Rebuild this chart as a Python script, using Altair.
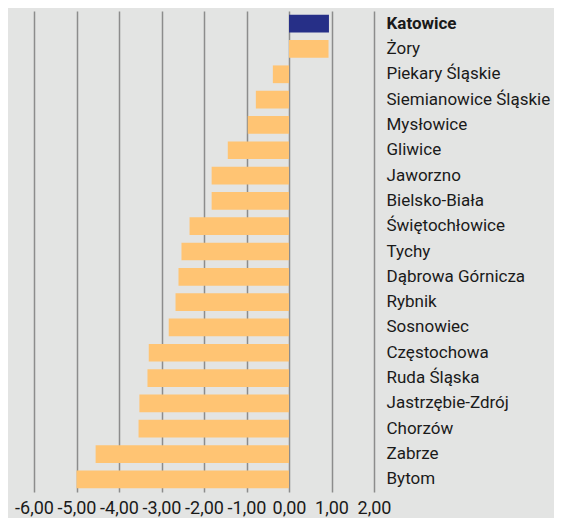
import altair as alt
import pandas as pd

cities = ["Katowice", "Żory", "Piekary Śląskie", "Siemianowice Śląskie", "Mysłowice",
          "Gliwice", "Jaworzno", "Bielsko-Biała", "Świętochłowice", "Tychy",
          "Dąbrowa Górnicza", "Rybnik", "Sosnowiec", "Częstochowa", "Ruda Śląska",
          "Jastrzębie-Zdrój", "Chorzów", "Zabrze", "Bytom"]
values = [0.94, 0.93, -0.38, -0.78, -0.97, -1.44, -1.82, -1.82, -2.34, -2.53,
          -2.60, -2.67, -2.83, -3.30, -3.33, -3.52, -3.54, -4.55, -5.00]
highlight = "Katowice"

df = pd.DataFrame({"city": cities, "value": values})
df["hl"] = df["city"] == highlight

FONT = "Roboto"

chart = alt.Chart(df).mark_bar().encode(
    x=alt.X("value:Q",
            scale=alt.Scale(domain=[-6, 2], nice=False, zero=False),
            axis=alt.Axis(values=[-6, -5, -4, -3, -2, -1, 0, 1, 2],
                          title=None, grid=True, gridColor="#8c8c8c", gridWidth=1.5,
                          gridOpacity=1, domain=False, ticks=False,
                          labelExpr="(datum.value < 0 ? '-' : '') + replace(format(abs(datum.value), '.2f'), '.', ',')",
                          labelOverlap=False, labelFlush=False, labelBound=False,
                          labelPadding=7, labelFont=FONT, labelFontSize=18,
                          labelColor="#1a1a1a")),
    y=alt.Y("city:N", sort=cities,
            scale=alt.Scale(paddingInner=0.3, paddingOuter=0.15),
            axis=alt.Axis(orient="right", title=None, domain=False, ticks=False,
                          labelAlign="left", labelBaseline="middle", labelPadding=12,
                          labelFont=FONT, labelFontSize=17, labelColor="#1a1a1a",
                          labelFontWeight={"expr": "datum.value == 'Katowice' ? 'bold' : 'normal'"},
                          labelLimit=300)),
    color=alt.Color("hl:N", scale=alt.Scale(domain=[True, False], range=["#262f87", "#ffc473"]),
                    legend=None),
).properties(
    width=340, height=481,
    background="#e3e4e3",
    padding={"left": 26, "top": 3, "right": 180, "bottom": 26},
    autosize=alt.AutoSizeParams(type="none"),
).configure_view(stroke=None)

chart.save("out.html", embed_options={"renderer": "svg", "actions": False})
